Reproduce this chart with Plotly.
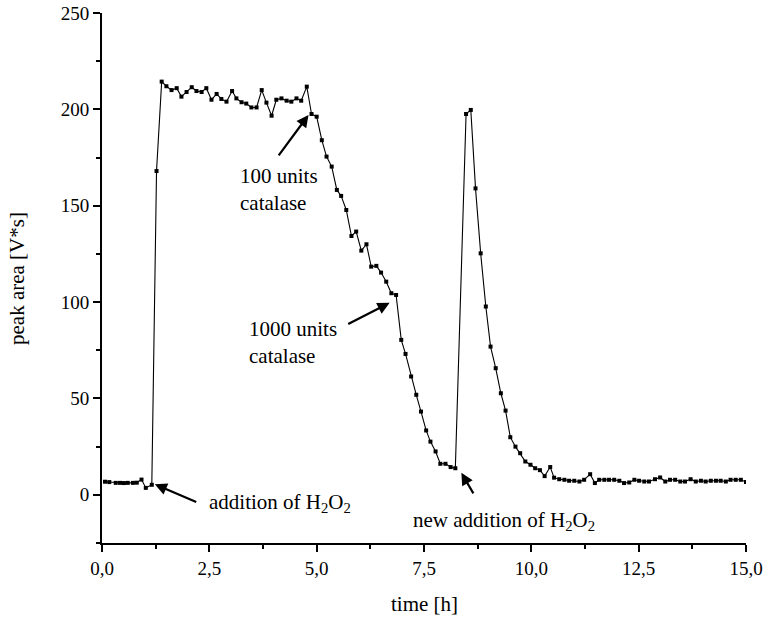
import plotly.graph_objects as go

# time [h]
time_h = [0.07, 0.17, 0.32, 0.42, 0.51, 0.60, 0.72, 0.81, 0.92, 1.02, 1.16,
          1.27, 1.39, 1.50, 1.62, 1.74, 1.85, 1.97, 2.09, 2.20, 2.32, 2.43, 2.55,
          2.67, 2.78, 2.90, 3.03, 3.13, 3.25, 3.36, 3.48, 3.60, 3.72, 3.83, 3.95,
          4.06, 4.18, 4.30, 4.41, 4.53, 4.64, 4.77, 4.88, 5.00, 5.12, 5.23, 5.35,
          5.47, 5.57, 5.69, 5.81, 5.92, 6.04, 6.16, 6.27, 6.39, 6.50, 6.62, 6.74,
          6.85, 6.97, 7.07, 7.20, 7.32, 7.43, 7.55, 7.65, 7.77, 7.88, 8.00, 8.12,
          8.23, 8.48, 8.59, 8.70, 8.82, 8.94, 9.05, 9.17, 9.29, 9.40, 9.51, 9.63,
          9.74, 9.86, 9.98, 10.09, 10.20, 10.31, 10.44, 10.53, 10.65, 10.77, 10.88,
          11.00, 11.12, 11.23, 11.37, 11.48,
          11.58, 11.70, 11.81, 11.93, 12.05, 12.16, 12.28, 12.40, 12.51, 12.63,
          12.74, 12.88, 13.00, 13.12, 13.23, 13.35, 13.47, 13.58, 13.71, 13.83,
          13.95, 14.06, 14.18, 14.30, 14.41, 14.53, 14.64, 14.76, 14.88, 15.00]

# peak area [V*s]
peak_area = [6.8, 6.6, 6.2, 6.2, 6.1, 6.2, 6.2, 6.3, 7.9, 3.6, 5.2,
             168.0, 214.4, 212.0, 210.0, 211.0, 206.6, 209.0, 211.5, 209.5, 209.0, 211.0, 205.0,
             208.0, 205.4, 204.0, 209.5, 205.7, 203.7, 203.0, 201.0, 201.0, 210.0, 203.5, 196.7,
             205.0, 205.7, 204.5, 204.0, 205.7, 204.5, 211.8, 197.6, 196.2, 184.0, 175.5, 170.3,
             158.2, 155.1, 147.8, 134.3, 136.6, 126.7, 130.0, 118.4, 118.8, 115.3, 110.6, 104.6,
             103.7, 80.4, 73.1, 61.4, 51.9, 43.2, 33.4, 27.6, 22.5, 16.1, 16.1, 14.4,
             13.8, 197.6, 199.7, 159.0, 125.3, 97.7, 76.9, 65.7, 52.7, 43.7, 29.9, 25.0,
             21.6, 17.3, 15.6, 13.8, 12.8, 9.7, 14.4, 8.9, 8.1, 7.8, 7.3,
             7.3, 6.9, 7.8, 10.7, 6.1,
             7.8, 7.8, 7.8, 7.8, 7.3, 6.1, 6.4, 7.8, 7.3, 6.9,
             6.9, 8.1, 9.0, 6.9, 7.8, 7.8, 6.9, 6.9, 8.1, 6.9,
             7.3, 6.9, 7.3, 7.3, 7.3, 6.9, 7.8, 7.8, 7.8, 6.6]

x_tickvals = [0, 2.5, 5, 7.5, 10, 12.5, 15]
x_ticktext = ["0,0", "2,5", "5,0", "7,5", "10,0", "12,5", "15,0"]
y_tickvals = [0, 50, 100, 150, 200, 250]
y_ticktext = ["0", "50", "100", "150", "200", "250"]

FONT = "Liberation Serif, Times New Roman, Times, DejaVu Serif, serif"

fig = go.Figure()
fig.add_trace(go.Scatter(
    x=time_h, y=peak_area, mode="lines+markers",
    line=dict(color="black", width=1.1),
    marker=dict(symbol="square", size=4, color="black"),
    showlegend=False, hoverinfo="skip",
))

arrows = [
    # (tip_x, tip_y, tail_x, tail_y)
    (1.23, 5.5, 2.23, -4.1),
    (4.81, 197.1, 4.09, 175.3),
    (6.70, 99.6, 5.70, 88.2),
    (8.37, 11.4, 8.67, 0.0),
]
annotations = []
for tx, ty, sx, sy in arrows:
    annotations.append(dict(
        x=tx, y=ty, ax=sx, ay=sy, xref="x", yref="y", axref="x", ayref="y",
        text="", showarrow=True, arrowhead=2, arrowsize=1.1, arrowwidth=2.2,
        arrowcolor="black", standoff=0, startstandoff=0,
    ))

labels = [
    (2.44, -4.1, "addition of H<sub>2</sub>O<sub>2</sub>"),
    (3.16, 158.2, "100 units<br>catalase"),
    (3.37, 78.8, "1000 units<br>catalase"),
    (7.19, -13.5, "new addition of H<sub>2</sub>O<sub>2</sub>"),
]
for lx, ly, txt in labels:
    annotations.append(dict(
        x=lx, y=ly, xref="x", yref="y", text=txt, showarrow=False,
        xanchor="left", yanchor="middle", align="left",
        font=dict(family=FONT, size=21, color="black"),
    ))

# axis titles as paper-positioned text
annotations.append(dict(
    x=0.5, y=-0.115, xref="paper", yref="paper", text="time [h]", showarrow=False,
    xanchor="center", yanchor="middle", font=dict(family=FONT, size=21, color="black"),
))
annotations.append(dict(
    x=-0.132, y=0.5, xref="paper", yref="paper", text="peak area [V*s]", showarrow=False,
    xanchor="center", yanchor="middle", textangle=-90,
    font=dict(family=FONT, size=21, color="black"),
))

fig.update_layout(
    width=766, height=626,
    margin=dict(l=102, r=20, t=13, b=83),
    paper_bgcolor="white", plot_bgcolor="white",
    font=dict(family=FONT, size=19, color="black"),
    annotations=annotations,
)
fig.update_xaxes(
    range=[0, 15], tickvals=x_tickvals, ticktext=x_ticktext, automargin=False,
    showgrid=False, zeroline=False, showline=True, linecolor="black", linewidth=2,
    ticks="outside", ticklen=7, tickwidth=2, tickcolor="black",
    minor=dict(tickvals=[1.25, 3.75, 6.25, 8.75, 11.25, 13.75], ticks="outside",
               ticklen=4, tickwidth=1.5, tickcolor="black"),
    tickfont=dict(family=FONT, size=19),
)
fig.update_yaxes(
    range=[-25, 250], tickvals=y_tickvals, ticktext=y_ticktext, automargin=False,
    showgrid=False, zeroline=False, showline=True, linecolor="black", linewidth=2,
    ticks="outside", ticklen=7, tickwidth=2, tickcolor="black",
    minor=dict(tickvals=[-25, 25, 75, 125, 175, 225], ticks="outside",
               ticklen=4, tickwidth=1.5, tickcolor="black"),
    tickfont=dict(family=FONT, size=19),
)

fig.write_html("out.html")
